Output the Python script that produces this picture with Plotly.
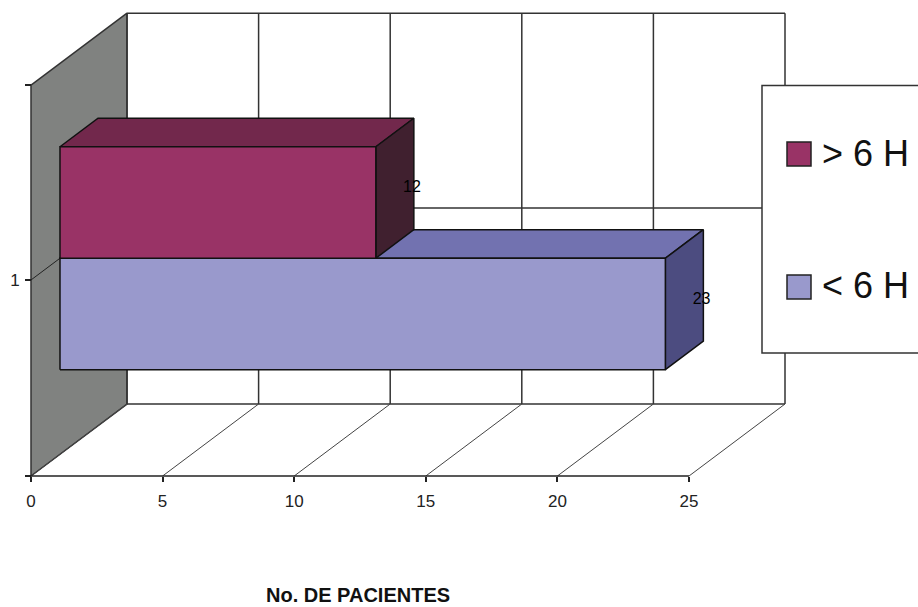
import plotly.graph_objects as go

categories = ["< 6 H", "> 6 H"]
values = [23, 12]
x_ticks = [0, 5, 10, 15, 20, 25]
y_ticks = [0.5, 0.995, 1.487]
y_tick_text = ["", "1", ""]
axis_title = "No. DE PACIENTES"

W, H = 918, 607
PX_X = 26.32
PX_Y = 396.0
X0_PX, Y0_PX = 31, 476
Y_BOTTOM, Y_MID, Y_TOP = y_ticks
DEPTH_X = 96 / PX_X
DEPTH_Y = 72 / PX_Y
BAR_NEAR, BAR_FAR = 0.302, 0.698
BAR_H = 0.2815

front_colors = ["#9999CC", "#993366"]
top_colors = ["#7272B0", "#72284C"]
side_colors = ["#4C4C80", "#40202F"]
EDGE = "#111111"
GRID = "#333333"
WALL = "#808280"


def proj(x, y, d):
    return x + d * DEPTH_X, y + d * DEPTH_Y


def poly(points, fill, line=EDGE, width=1.5):
    pts = [proj(*p) for p in points]
    pts.append(pts[0])
    return go.Scatter(x=[p[0] for p in pts], y=[p[1] for p in pts], mode="lines",
                      fill="toself", fillcolor=fill, line=dict(color=line, width=width),
                      hoverinfo="skip", showlegend=False)


def segs(pairs, color=GRID, width=1.5):
    xs, ys = [], []
    for a, b in pairs:
        pa, pb = proj(*a), proj(*b)
        xs += [pa[0], pb[0], None]
        ys += [pa[1], pb[1], None]
    return go.Scatter(x=xs, y=ys, mode="lines", line=dict(color=color, width=width),
                      hoverinfo="skip", showlegend=False)


fig = go.Figure()

# left wall
fig.add_trace(poly([(0, Y_BOTTOM, 0), (0, Y_TOP, 0), (0, Y_TOP, 1), (0, Y_BOTTOM, 1)], WALL, GRID))

# back wall grid and floor lines
back = [((v, Y_BOTTOM, 1), (v, Y_TOP, 1)) for v in x_ticks]
back += [((0, Y_BOTTOM, 1), (x_ticks[-1], Y_BOTTOM, 1)),
         ((0, Y_TOP, 1), (x_ticks[-1], Y_TOP, 1)),
         ((0, Y_MID, 1), (x_ticks[-1], Y_MID, 1))]
fig.add_trace(segs(back))
fig.add_trace(segs([((v, Y_BOTTOM, 0), (v, Y_BOTTOM, 1)) for v in x_ticks], "#444444", 1))
fig.add_trace(segs([((0, Y_MID, 0), (0, Y_MID, BAR_NEAR))], "#222222", 1))
fig.add_trace(segs([((-0.22, Y_BOTTOM, 0), (x_ticks[-1], Y_BOTTOM, 0))], "#222222", 1.5))

# bars: the series stack around the category position
for i, v in enumerate(values):
    lo = Y_MID + (i - 1) * BAR_H
    hi = lo + BAR_H
    fig.add_trace(poly([(0, hi, BAR_NEAR), (v, hi, BAR_NEAR), (v, hi, BAR_FAR), (0, hi, BAR_FAR)], top_colors[i]))
    fig.add_trace(poly([(v, lo, BAR_NEAR), (v, hi, BAR_NEAR), (v, hi, BAR_FAR), (v, lo, BAR_FAR)], side_colors[i]))
    fig.add_trace(poly([(0, lo, BAR_NEAR), (v, lo, BAR_NEAR), (v, hi, BAR_NEAR), (0, hi, BAR_NEAR)], front_colors[i]))

# data labels
fig.add_trace(go.Scatter(
    x=[proj(v, 0, BAR_FAR)[0] - 0.07 for v in values],
    y=[Y_MID + (i - 0.5) * BAR_H + (BAR_NEAR + BAR_FAR) / 2 * DEPTH_Y for i in range(len(values))],
    mode="text", text=[str(v) for v in values], textposition="middle center",
    textfont=dict(family="Liberation Sans", size=16, color="#000000"),
    hoverinfo="skip", showlegend=False))

fig.update_layout(
    width=W, height=H, margin=dict(l=0, r=0, t=0, b=0, autoexpand=False),
    paper_bgcolor="white", plot_bgcolor="white", showlegend=False,
    font=dict(family="Liberation Sans", size=16, color="#222222"),
    xaxis=dict(range=[-X0_PX / PX_X, (W - X0_PX) / PX_X], domain=[0, 1], anchor="free",
               position=(H - Y0_PX) / H, tickvals=x_ticks, ticks="outside", ticklen=5,
               tickwidth=1.5, tickcolor="#222222", showgrid=False, zeroline=False, showline=False,
               tickfont=dict(size=17), ticklabelstandoff=5),
    yaxis=dict(range=[Y_BOTTOM - (H - Y0_PX) / PX_Y, Y_BOTTOM + Y0_PX / PX_Y], domain=[0, 1],
               anchor="free", position=X0_PX / W, tickvals=y_ticks, ticktext=y_tick_text,
               ticks="outside", ticklen=6, tickwidth=1.5, tickcolor="#222222", showgrid=False,
               zeroline=False, showline=False, tickfont=dict(size=17), ticklabelstandoff=2),
)

# legend box
fig.add_shape(type="rect", xref="paper", yref="paper", x0=762 / W, x1=1.01,
              y0=1 - 353 / H, y1=1 - 85.5 / H, fillcolor="white", line=dict(color="#333333", width=1.5))
for name, color, yc in zip(categories, front_colors, [287, 154]):
    fig.add_shape(type="rect", xref="paper", yref="paper", x0=787 / W, x1=811 / W,
                  y0=1 - (yc + 12) / H, y1=1 - (yc - 12) / H, fillcolor=color,
                  line=dict(color="#222222", width=1.5))
    fig.add_annotation(xref="paper", yref="paper", x=820 / W, y=1 - (yc - 1) / H, text=name,
                       showarrow=False, xanchor="left", yanchor="middle",
                       font=dict(family="Liberation Sans", size=36, color="#111111"))

fig.add_annotation(xref="paper", yref="paper", x=358 / W, y=1 - 594.5 / H, text="<b>" + axis_title + "</b>",
                   showarrow=False, xanchor="center", yanchor="middle",
                   font=dict(family="Liberation Sans", size=20, color="#111111"))

fig.write_html("out.html", config=dict(displayModeBar=False),
               post_script="document.body.style.margin='0';")
